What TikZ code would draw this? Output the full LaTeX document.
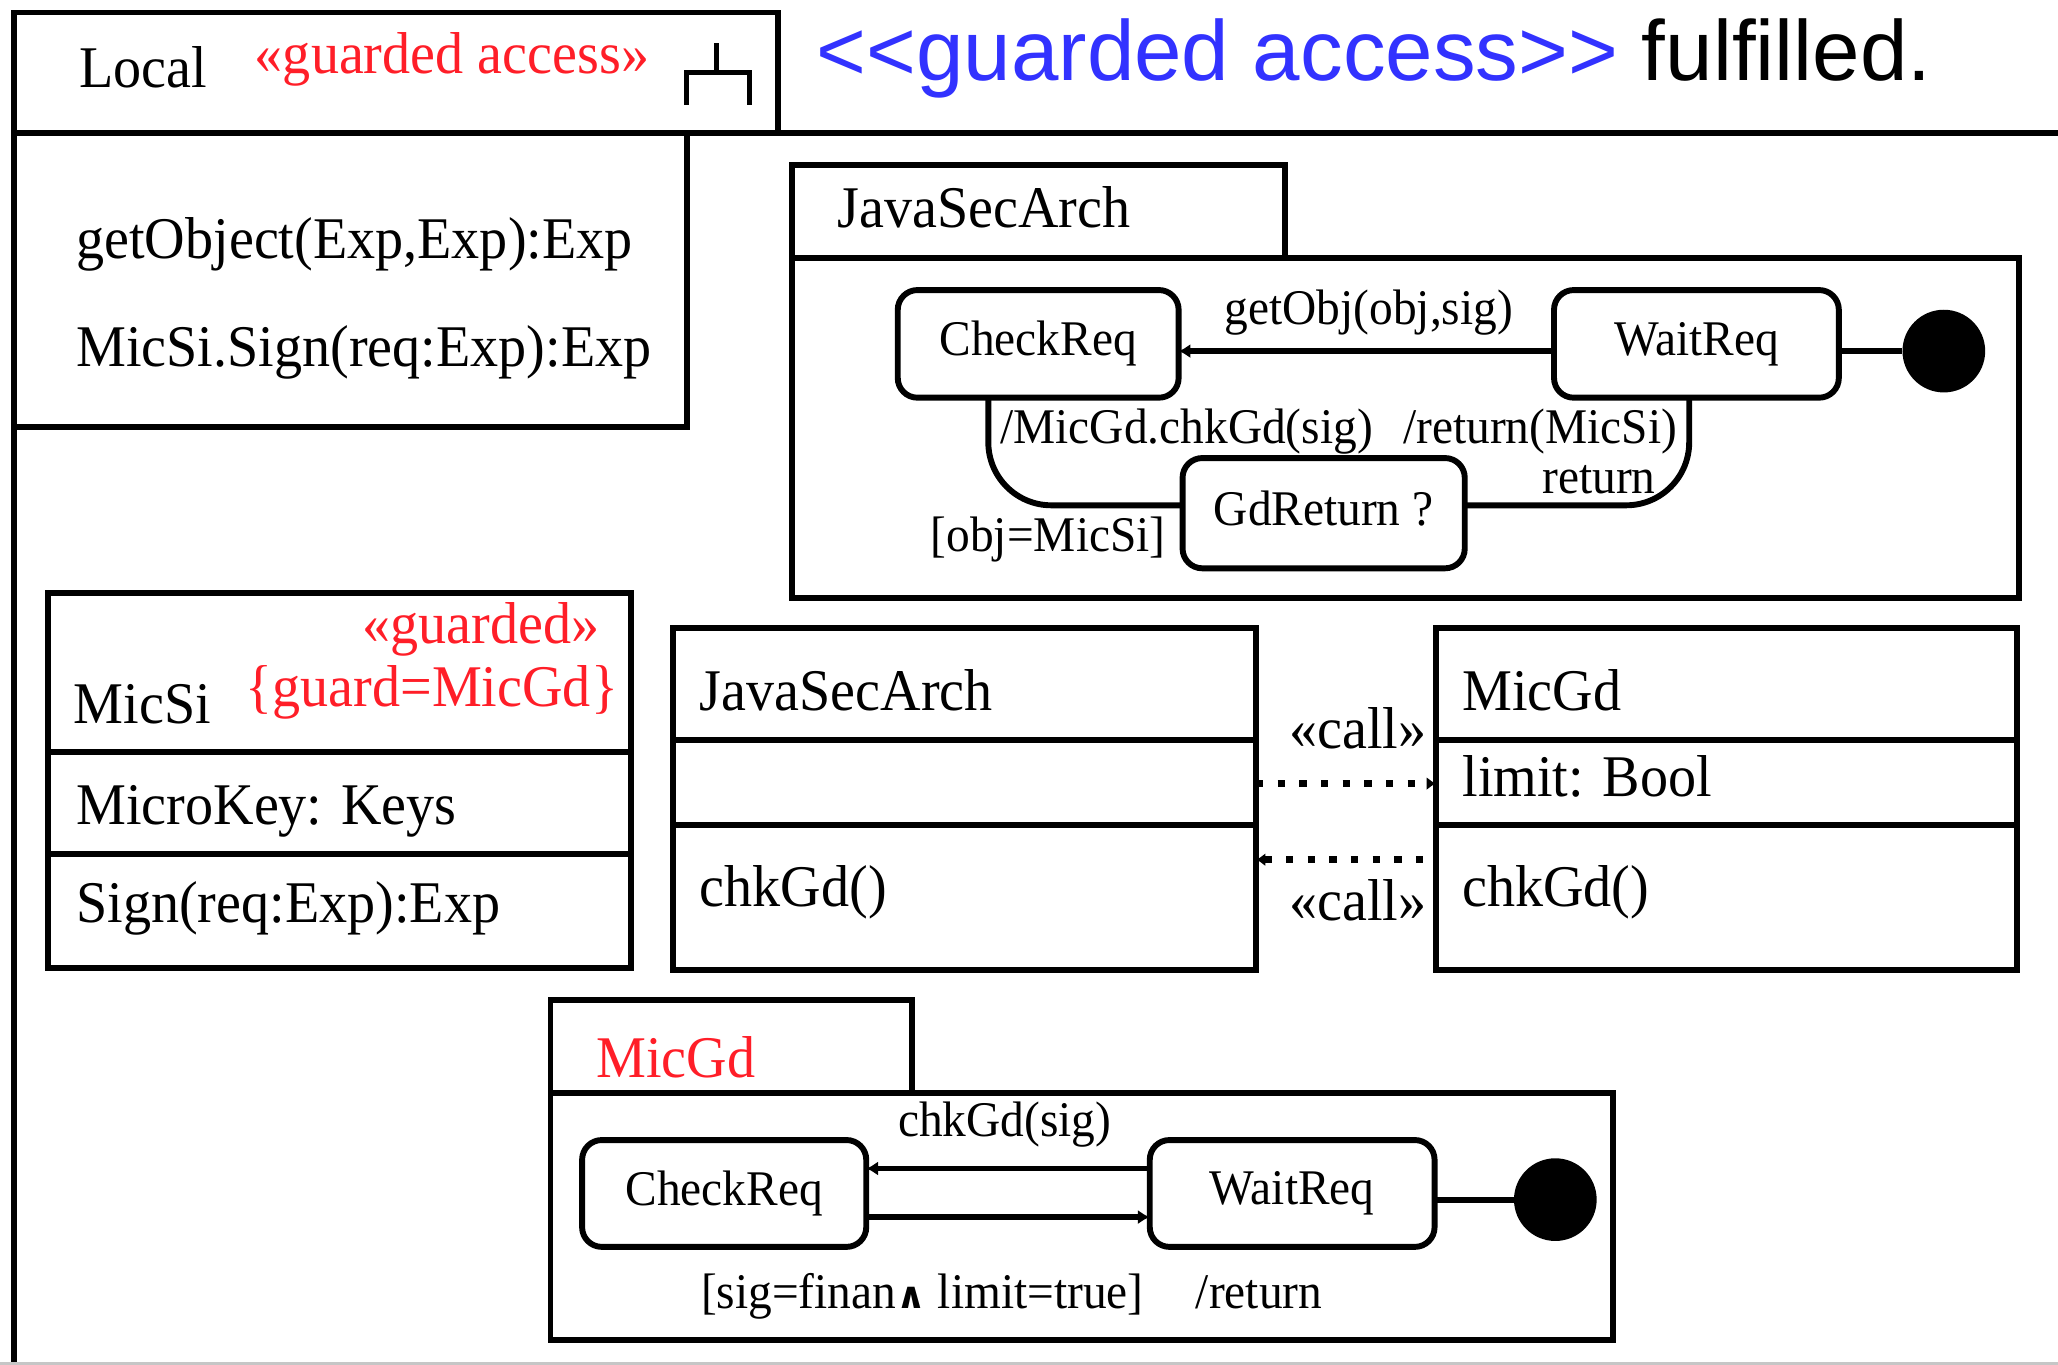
\documentclass[tikz,border=0pt]{standalone}
\usepackage{fontspec}
\setmainfont{Liberation Serif}[FakeStretch=0.95]
\newfontfamily\headfont{Liberation Sans}
\newfontfamily\wedgefont{DejaVu Sans}
\usetikzlibrary{arrows.meta,calc}
\definecolor{stereored}{RGB}{255,30,40}
\definecolor{headblue}{RGB}{50,50,255}
\newcommand{\umlbig}{\fontsize{45}{50}\selectfont}
\newcommand{\umlsmall}{\fontsize{38}{42}\selectfont}
\begin{document}
\begin{tikzpicture}[x=1pt,y=-1pt,
  boxed/.style={draw, line width=4.5pt, inner sep=0pt, outer sep=0pt, anchor=north west},
  statebox/.style={draw, line width=4.5pt, rounded corners=15pt, inner sep=0pt, outer sep=0pt, font=\umlsmall, minimum height=82pt},
  finalstate/.style={circle, fill=black, inner sep=0pt, outer sep=0pt, minimum size=63pt},
  trans/.style={line width=4.5pt},
  tip/.style={-{Latex[length=9pt,width=11pt]}},
  bigtext/.style={inner sep=0pt, anchor=base west, font=\umlbig},
  smalltext/.style={inner sep=0pt, anchor=base west, font=\umlsmall},
  stereo/.style={text=stereored},
  calldep/.style={line width=5.5pt, dash pattern=on 5.5pt off 11pt},
  sep/.style={line width=4.5pt}
]
\fill[white] (0,0) rectangle (1568,1040);
\useasboundingbox (0,0) rectangle (1568,1040);

% heading
\node[inner sep=0pt, anchor=base west, font={\headfont\fontsize{65}{70}\selectfont}] (heading) at (622,61)
  {\textcolor{headblue}{<\kern0pt<guarded access>\kern0pt>} fulfilled.};

% package Local with its name tab
\node[boxed, minimum width=581.5pt, minimum height=92pt] (localtab) at (11,9.5) {};
\draw[sep] (1568,101.5) -- (localtab.south west) -- (11,1042);
\node[bigtext] (localname) at (60,67) {Local};
\node[bigtext, stereo] (localstereo) at (194,56) {«guarded access»};
\draw[line width=4pt] (546,33) -- (546,55) (523,80) -- (523,55) -- (571,55) -- (571,80);

% operations of Local
\node[boxed, minimum width=512.5pt, minimum height=223.5pt] (iface) at (11,101.5) {};
\node[bigtext] (opget) at (58,197) {getObject(Exp,Exp):Exp};
\node[bigtext] (opsign) at (58,279) {MicSi.Sign(req:Exp):Exp};

% state machine JavaSecArch
\node[boxed, minimum width=375.5pt, minimum height=71pt] (jsmtab) at (603.5,125.7) {};
\node[boxed, minimum width=934.5pt, minimum height=259pt] (jsm) at (603.5,196.7) {};
\node[bigtext] (jsmname) at (638,173) {JavaSecArch};
\node[statebox, minimum width=214pt, anchor=north west] (jcheck) at (684,221) {CheckReq};
\node[statebox, minimum width=217pt, anchor=north west] (jwait) at (1184,221) {WaitReq};
\node[finalstate] (jfinal) at (1481,267.5) {};
\node[statebox, minimum width=215pt, minimum height=84pt, anchor=north west] (jgd) at (901,349) {GdReturn ?\vphantom{q}};

\draw[trans] (jfinal.west -| jwait.east) -- (jfinal.west);
\draw[trans, tip] (jfinal.west -| jwait.west) -- (jfinal.west -| jcheck.east);
\node[smalltext] (lgetobj) at (933,247) {getObj(obj,sig)};
\draw[trans, rounded corners=48pt] ($(jcheck.south west)+(69,0)$) |- ([yshift=6pt]jgd.west);
\draw[trans, rounded corners=48pt] ([yshift=6pt]jgd.east) -| ($(jwait.south west)+(103,0)$);
\node[smalltext] (lchk) at (762,338) {/MicGd.chkGd(sig)};
\node[smalltext] (lretms) at (1069,338) {/return(MicSi)};
\node[smalltext] (lret) at (1175,376) {return};
\node[smalltext] (lguard) at (709,420) {[obj=MicSi]};

% class MicSi
\node[boxed, minimum width=444.5pt, minimum height=285.7pt] (micsi) at (36.5,452) {};
\draw[sep] (micsi.west |- 0,573) -- (micsi.east |- 0,573);
\draw[sep] (micsi.west |- 0,651) -- (micsi.east |- 0,651);
\node[bigtext, stereo] (micsistereo) at (276,490) {«guarded»};
\node[bigtext, stereo] (micsiguard) at (187,538.5) {\{guard=MicGd\}};
\node[bigtext] (micsiname) at (56,551) {MicSi};
\node[bigtext] (micsiattr) at (58,628) {MicroKey: Keys};
\node[bigtext] (micsiop) at (58,703) {Sign(req:Exp):Exp};

% class JavaSecArch
\node[boxed, minimum width=444pt, minimum height=260.4pt] (jclass) at (513,478.6) {};
\draw[sep] (jclass.west |- 0,564) -- (jclass.east |- 0,564);
\draw[sep] (jclass.west |- 0,628.6) -- (jclass.east |- 0,628.6);
\node[bigtext] (jclassname) at (533,541) {JavaSecArch};
\node[bigtext] (jclassop) at (533,691) {chkGd()};

% class MicGd
\node[boxed, minimum width=443pt, minimum height=260.4pt] (mclass) at (1094,478.6) {};
\draw[sep] (mclass.west |- 0,564) -- (mclass.east |- 0,564);
\draw[sep] (mclass.west |- 0,628.6) -- (mclass.east |- 0,628.6);
\node[bigtext] (mclassname) at (1114,541) {MicGd};
\node[bigtext] (mclassattr) at (1114,607) {limit: Bool};
\node[bigtext] (mclassop) at (1114,691) {chkGd()};

% call dependencies
\draw[calldep, -{Latex[length=7pt,width=10pt]}] (jclass.east |- 0,597) -- (mclass.west |- 0,597);
\draw[calldep, {Latex[length=7pt,width=10pt]}-] (jclass.east |- 0,655) -- (mclass.west |- 0,655);
\node[bigtext] (callup) at (982,570) {«call»};
\node[bigtext] (calldown) at (982,701) {«call»};

% state machine MicGd
\node[boxed, minimum width=275.6pt, minimum height=71pt] (msmtab) at (419.4,762) {};
\node[boxed, minimum width=809.6pt, minimum height=188pt] (msm) at (419.4,833) {};
\node[bigtext, stereo] (msmname) at (454,820.6) {MicGd};
\node[statebox, minimum width=216.5pt, minimum height=81.4pt, anchor=north west] (mcheck) at (443.5,868.6) {CheckReq};
\node[statebox, minimum width=217pt, minimum height=81.4pt, anchor=north west] (mwait) at (876,868.6) {WaitReq};
\node[finalstate] (mfinal) at (1185,914) {};
\draw[trans] (mfinal.west -| mwait.east) -- (mfinal.west);
\draw[trans, tip] ([yshift=19pt]mwait.west) -- ([yshift=19pt]mcheck.east);
\draw[trans, tip] ([yshift=-18pt]mcheck.east) -- ([yshift=-18pt]mwait.west);
\node[smalltext] (lchkgd) at (684,866) {chkGd(sig)};
\node[smalltext] (lsig) at (534,997) {[sig=finan{\wedgefont\bfseries\fontsize{28}{30}\selectfont ∧} limit=true]};
\node[smalltext] (lreturn) at (911,997) {/return};

% lower edge of the sheet
\draw[gray!45, line width=2pt] (0,1039) -- (1568,1039);
\end{tikzpicture}
\end{document}
